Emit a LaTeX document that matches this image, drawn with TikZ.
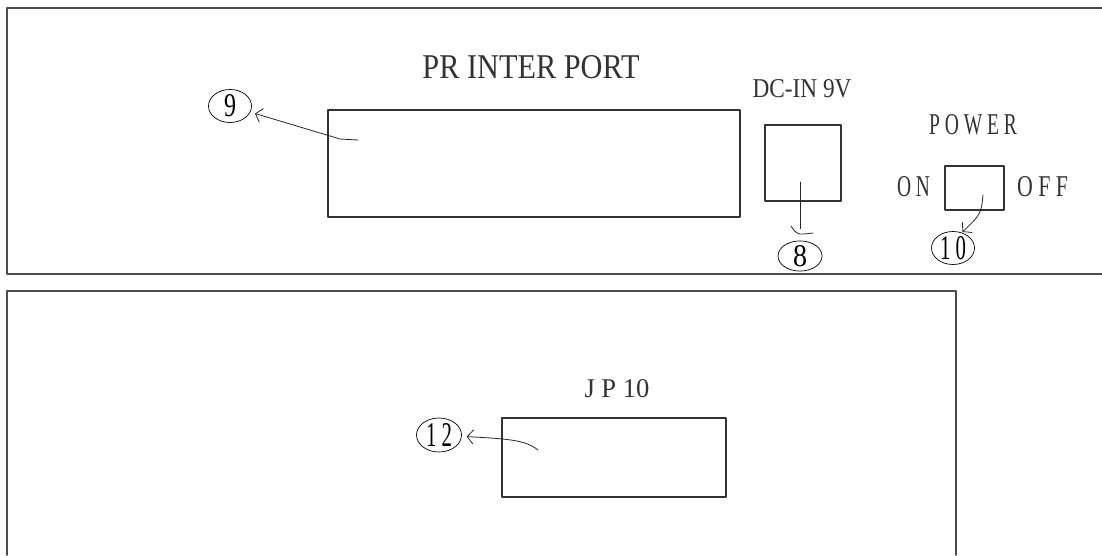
\documentclass[tikz,border=0pt]{standalone}
\usepackage{fontspec}
\usepackage{graphicx}
\newfontfamily\lblfont{Liberation Serif}
\usetikzlibrary{shapes.geometric,arrows.meta}
% text squeezed to the size it has in the drawing
\newcommand{\fit}[3]{\resizebox{#1}{#2}{\lblfont #3}}

\begin{document}
\begin{tikzpicture}[x=1pt,y=-1pt,line join=round,line cap=round,>={Straight Barb[length=6pt,width=14pt,line width=0.8pt,round]},
	frame/.style={line width=1.6pt,black!70},
	part/.style={draw,line width=1.1pt,black!80,inner sep=0pt},
	tag/.style={draw,ellipse,line width=0.7pt,inner sep=0pt},
	lead/.style={line width=0.8pt,black!85},
	txt/.style={inner sep=0pt,text=black!80}]
	\useasboundingbox (0,0) rectangle (1102,555);
	% panels
	\draw[frame] (1102,8) -- (7,8) -- (7,274) -- (1102,274);
	\draw[frame] (7,555) -- (7,291) -- (956,291) -- (956,555);
	% parts
	\node[part,minimum width=412pt,minimum height=107pt] (port) at (534,163.5) {};
	\node[part,minimum width=76pt,minimum height=76pt] (dc) at (803,163) {};
	\node[part,minimum width=59pt,minimum height=44pt] (sw) at (974.5,188) {};
	\node[part,minimum width=224pt,minimum height=79pt] (jp) at (614,457.5) {};
	% labels
	\node[txt] (tport) at (531,67) {\fit{217pt}{23pt}{PR INTER PORT}};
	\node[txt] (tdc) at (802,89) {\fit{99pt}{18pt}{DC-IN 9V}};
	\node[txt] (tpow) at (973,125) {\fit{88pt}{20pt}{P O W E R}};
	\node[txt] (ton) at (913.5,187) {\fit{33pt}{20pt}{O N}};
	\node[txt] (toff) at (1042.5,187) {\fit{51pt}{20pt}{O F F}};
	\node[txt] (tjp) at (617,389) {\fit{65pt}{18pt}{J P 10}};
	% numbered tags
	\node[tag,minimum width=43pt,minimum height=33pt] (n9) at (230,106) {\fit{12pt}{22pt}{9}};
	\node[tag,minimum width=44pt,minimum height=30pt] (n8) at (800,256) {\fit{14pt}{21pt}{8}};
	\node[tag,minimum width=43pt,minimum height=33pt] (n10) at (953,248) {\fit{26pt}{23pt}{1 0}};
	\node[tag,minimum width=45pt,minimum height=34pt] (n12) at (439,435) {\fit{26pt}{23pt}{1 2}};
	% leader lines
	\path (358,140) coordinate (a9)
	(800,182) coordinate (a8)
	(983,195) coordinate (a10)
	(538,450) coordinate (a12);
	\draw[lead,->,shorten >=5pt] (a9) -- (340,139) -- (n9);
	\draw[lead,shorten >=12pt] (a8) -- (n8.north);
	\draw[lead] (791,226) .. controls (797,235) .. (813,233);
	\draw[lead,->,shorten >=1pt] (a10) .. controls (981,214) .. (n10.60);
	\draw[lead,->,shorten >=5pt] (a12) .. controls (525,440) and (510,439) .. (n12);
\end{tikzpicture}
\end{document}
